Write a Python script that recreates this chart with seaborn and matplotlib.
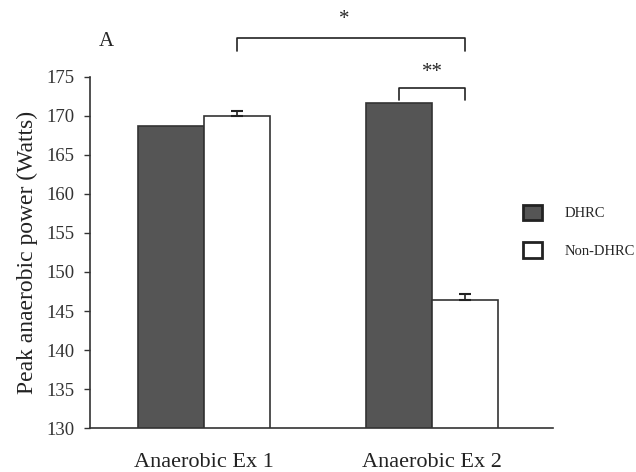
import matplotlib
matplotlib.use("Agg")
import matplotlib.pyplot as plt
import seaborn as sns
import pandas as pd
import numpy as np

# Data
exercises = ["Anaerobic Ex 1", "Anaerobic Ex 2"]
groups = ["DHRC", "Non-DHRC"]
dhrc_power = [168.7, 171.7]
non_dhrc_power = [170.0, 146.4]
non_dhrc_err = [0.6, 0.8]
y_ticks = [130, 135, 140, 145, 150, 155, 160, 165, 170, 175]

df = pd.DataFrame({
    "exercise": exercises * 2,
    "group": [groups[0]] * 2 + [groups[1]] * 2,
    "power": dhrc_power + non_dhrc_power,
})

sns.set_style("white")
plt.rcParams["font.family"] = ["Liberation Serif", "DejaVu Serif"]

fig = plt.figure(figsize=(6.36, 4.72), dpi=100)
ax = fig.add_axes([0.1415, 0.0932, 0.728, 0.7437])

sns.barplot(data=df, x="exercise", y="power", hue="group", order=exercises,
            hue_order=groups, palette=["#555555", "#ffffff"], width=0.58,
            errorbar=None, edgecolor="#333333", linewidth=1.2, ax=ax)

# error bars on the Non-DHRC bars
nd_bars = ax.containers[1]
centers = [p.get_x() + p.get_width() / 2 for p in nd_bars]
ax.errorbar(centers, non_dhrc_power, yerr=[[0, 0], non_dhrc_err], fmt="none",
            ecolor="#222222", elinewidth=1.2, capsize=4, capthick=1.5)

ax.set_ylim(130, 175)
ax.set_xlim(-0.5, 1.53)
ax.set_yticks(y_ticks)
ax.tick_params(axis="y", which="major", direction="out", length=4, width=1,
               labelsize=13.5, pad=7, colors="#333333", left=True)
ax.tick_params(axis="x", length=0, labelsize=16, pad=18, colors="#222222")
ax.set_xlabel("")
ax.set_ylabel("Peak anaerobic power (Watts)", fontsize=17, color="#222222",
              labelpad=6)

for side in ["top", "right"]:
    ax.spines[side].set_visible(False)
for side in ["left", "bottom"]:
    ax.spines[side].set_color("#333333")
    ax.spines[side].set_linewidth(1.2)

# significance brackets
d_bars = ax.containers[0]
d_centers = [p.get_x() + p.get_width() / 2 for p in d_bars]
bkw = dict(color="#222222", lw=1.2, clip_on=False)
x1, x2 = centers[0], centers[1]
ax.plot([x1, x1, x2, x2], [178.3, 180.0, 180.0, 178.3], **bkw)
ax.text((x1 + x2) / 2 - 0.03, 181.2, "*", ha="center", va="bottom", fontsize=15)
xa, xb = d_centers[1], centers[1]
ax.plot([xa, xa, xb, xb], [172.0, 173.6, 173.6, 172.0], **bkw)
ax.text((xa + xb) / 2, 174.4, "**", ha="center", va="bottom", fontsize=15)

ax.text(-0.43, 179.5, "A", fontsize=15, ha="center", va="center")

handles, labels = ax.get_legend_handles_labels()
for h in handles:
    h.set_linewidth(2)
    h.set_edgecolor("#222222")
ax.legend(handles, labels, loc="center left", bbox_to_anchor=(0.922, 0.56),
          frameon=False, fontsize=10.5, handlelength=1.3, handleheight=1.3,
          labelspacing=1.5, handletextpad=1.6, borderaxespad=0)

fig.savefig("out.png", dpi=100)
